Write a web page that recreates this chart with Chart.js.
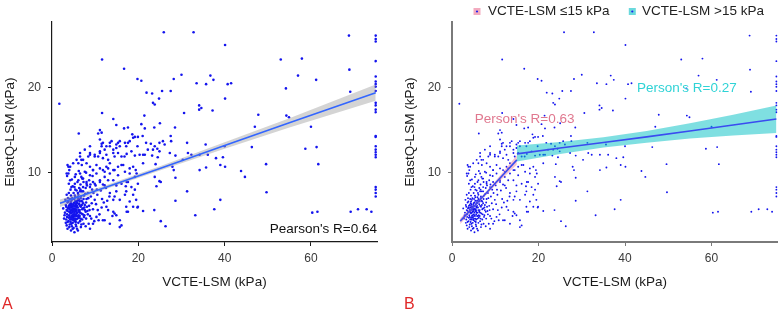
<!DOCTYPE html>
<html>
<head>
<meta charset="utf-8">
<script src="https://cdn.jsdelivr.net/npm/chart.js@4"></script>
<style>
body { margin: 0; background: #fff; }
#wrap { position: relative; width: 784px; height: 313px; }
canvas { position: absolute; top: 0; }
#panelA { left: 0; }
#panelB { left: 392px; }
</style>
</head>
<body>
<div id="wrap">
<canvas id="panelA" width="392" height="313"></canvas>
<canvas id="panelB" width="392" height="313"></canvas>
</div>
<script>
const xTicks = [0, 20, 40, 60];
const yTicks = [10, 20];

// [VCTE-LSM, ElastQ-LSM] pairs
const lowCluster = [
    [3.2,4.1],[3.5,4.8],[3.6,5.5],[3.8,4.3],[3.9,6.1],[4.0,5.0],[4.1,5.7],[4.2,4.5],[4.3,6.4],[4.4,5.2],
    [4.5,4.0],[4.5,5.9],[4.6,6.8],[4.7,4.7],[4.8,5.4],[4.9,6.2],[5.0,4.4],[5.0,5.1],[5.1,5.8],[5.2,6.5],
    [5.3,4.9],[5.4,7.1],[5.4,5.5],[5.5,4.2],[5.6,6.0],[5.7,5.3],[5.8,6.7],[5.9,4.6],[6.0,5.9],[6.1,7.4],
    [6.2,5.0],[6.3,6.3],[6.4,5.6],[6.5,4.3],[6.6,7.0],[6.7,6.0],[6.8,5.2],[7.0,6.6],[7.2,5.8],[7.4,7.3],
    [7.6,6.2],[7.8,5.4],[8.0,6.9],[8.3,7.6],[8.6,6.1],[9.0,7.2],[3.0,5.3],[3.3,6.0],[3.4,3.8],[3.7,7.0],
    [2.8,4.6],[4.0,3.6],[4.8,3.4],[5.6,3.7],[6.0,3.2],[5.2,3.0],[4.4,7.3],[5.0,7.6],[5.7,7.9],[6.3,8.2],
    [6.9,7.8],[4.2,6.9],[3.6,6.5],[3.1,6.8],[2.6,5.8],[2.9,5.0],[4.6,5.6],[4.9,4.8],[5.3,5.7],[5.5,6.3],
    [5.9,5.3],[4.3,5.5],[4.7,6.0],[5.1,6.9],[5.8,4.9],[6.2,6.8],[4.1,4.8],[3.8,5.9],[4.5,4.5],[5.4,4.6],
    [6.4,4.9],[7.0,4.5],[7.5,5.0],[8.2,5.5],[8.8,4.9],[9.5,5.7],[10.2,6.3],[11.0,5.1],[9.8,4.3],[8.5,4.0],
    [7.8,3.7],[6.8,3.9],[12.0,6.5],[10.5,7.4],[9.3,8.0],[8.1,8.5],[7.3,8.9],[6.6,8.6],[5.9,8.9],[5.2,8.3],
    [4.6,9.2],[3.9,8.7],[3.5,9.6],[4.0,10.3],[3.6,10.9],[5.5,9.8],[6.2,10.2],[7.0,9.3],[7.9,10.0],[8.6,9.1],
    [9.4,9.6],[10.1,8.5],[11.3,7.9],[12.5,8.2],[13.3,7.2],[13.0,5.6],[12.2,4.4],[11.5,5.9],[14.0,4.9],
    [4.4,6.1],[4.8,5.0],[5.2,5.3],[5.6,5.5],[4.9,5.7],[5.3,6.1],[4.6,4.9],[5.1,4.6],[4.2,5.3],[5.7,6.5]
];

// the dense core around 4-7 kPa
const coreCluster = [
    [3.3,4.5],[3.5,5.1],[3.7,5.8],[3.9,4.7],[4.1,6.2],[4.3,4.2],[4.4,6.6],[4.6,5.3],[4.7,7.0],[4.9,4.5],
    [5.0,6.4],[5.2,5.0],[5.3,7.3],[5.5,5.7],[5.6,4.5],[5.8,6.1],[5.9,7.1],[6.1,5.6],[6.2,4.7],[6.4,6.6],
    [6.5,5.3],[6.7,7.2],[6.9,6.2],[7.1,5.1],[7.3,6.9],[7.5,5.9],[7.7,7.5],[7.9,6.5],[8.1,6.0],[8.4,7.0],
    [3.4,5.6],[3.6,4.2],[3.8,6.6],[4.0,5.4],[4.2,5.9],[4.4,4.7],[4.5,6.3],[4.7,5.7],[4.8,4.1],[5.0,5.5],
    [5.1,6.1],[5.3,4.3],[5.4,6.7],[5.6,5.1],[5.7,5.9],[5.9,6.4],[6.0,4.9],[6.1,6.9],[6.3,5.4],[6.5,6.1],
    [6.6,4.6],[6.8,6.7],[7.0,5.7],[7.2,6.4],[7.4,4.8],[7.6,5.6],[7.9,4.6],[8.3,5.1],[8.7,5.6],[9.2,6.4],
    [3.2,6.2],[3.4,7.4],[3.9,7.6],[4.3,8.0],[4.8,8.4],[5.4,8.0],[6.0,7.6],[6.6,8.0],[7.2,7.8],[7.8,8.2],
    [4.1,3.9],[4.6,3.7],[5.0,3.5],[5.5,3.9],[6.1,4.1],[6.7,3.6],[7.3,4.0],[3.6,3.4],[4.4,3.2],[5.8,3.4],
    [9.9,6.8],[10.6,5.6],[9.6,7.6],[8.9,8.6],[10.4,8.0],[11.6,6.9],[12.8,6.7],[10.8,4.4],[11.8,8.6],[9.1,4.6]
];

const innerCloud = [
    [11.5,13.4],[12.6,13.1],[13.4,13.5],[14.9,13.3],[15.7,13.7],[16.9,13.5],[18.0,13.7],[14.2,12.7],[15.3,12.3],[16.1,11.9],
    [17.3,12.2],[18.4,12.5],[19.2,12.0],[12.6,12.1],[11.8,11.7],[11.1,12.3],[9.9,11.9],[8.8,12.1],[7.2,11.5],[8.0,11.1],
    [6.9,10.9],[6.1,11.1],[8.8,10.7],[9.5,10.3],[10.3,10.9],[11.1,10.5],[12.2,10.1],[13.0,10.5],[13.4,9.9],[14.5,10.3],
    [15.3,9.7],[16.1,10.9],[16.9,10.1],[18.0,10.5],[18.8,10.7],[19.6,9.9],[3.8,10.7],[3.4,9.9],[4.2,9.1],[5.3,9.5],
    [6.5,9.9],[7.2,9.3],[8.0,8.9],[8.8,8.3],[9.9,8.7],[11.1,8.9],[12.2,8.5],[13.0,9.1],[14.2,9.1],[14.9,8.5],
    [16.1,8.7],[17.3,8.9],[18.4,8.3],[19.2,8.0],[19.9,8.7],[13.4,7.6],[14.5,7.2],[15.7,6.8],[16.9,7.4],[18.0,6.6],
    [18.8,6.0],[17.3,5.4],[15.7,4.4],[16.1,3.8],[13.4,4.0],[11.8,4.4],[10.3,4.8],[9.5,4.0],[8.8,3.4],[14.2,5.4],
    [14.9,5.0],[12.6,6.0],[6.5,11.9],[6.8,11.5],[8.4,11.9],[8.8,12.3],[9.9,12.1],[10.7,11.9],[11.1,12.5],[11.5,13.1],
    [11.8,13.5],[12.2,12.7],[13.0,11.5],[13.4,13.1],[13.8,13.7],[14.2,12.3],[14.5,11.9],[14.9,12.9],[15.3,13.5],[15.7,13.1],
    [9.5,10.3],[10.3,9.9],[8.8,9.7],[7.6,10.1],[6.8,9.5],[6.1,9.1],[5.3,8.7],[4.5,8.3],[3.8,9.9],[4.2,10.7],
    [4.9,11.1],[5.7,11.5],[11.8,10.3],[12.6,10.7],[13.4,11.1],[14.2,10.3],[12.2,9.5],[11.1,9.1],[9.5,8.9],[8.0,8.7],
    [7.2,8.3],[6.5,7.8],[11.1,13.9],[10.7,14.6],[8.8,13.1],[7.6,12.7],[6.5,12.3]
];

const midCloud = [
    [19.8,13.1],[22.9,13.4],[23.8,13.1],[24.4,12.8],[24.9,13.5],[26.1,13.3],[27.6,13.7],[24.9,12.5],[23.4,12.7],[22.2,12.7],
    [21.1,12.1],[20.3,12.1],[21.5,12.1],[24.5,11.8],[27.3,12.3],[28.6,12.0],[24.0,11.0],[21.1,11.1],[19.4,10.3],[23.8,9.5],
    [24.9,9.0],[28.6,9.4],[27.9,10.7],[28.2,10.3],[23.7,5.6],[21.1,5.5],[19.8,5.9],[25.2,4.3],[26.3,3.7],[21.8,13.5],
    [25.7,13.7],[23.2,12.0],[18.8,14.1],[17.2,13.1],[17.6,13.5],[16.8,11.9],[16.5,10.9],[18.0,9.9],[19.2,9.5],[17.6,8.9],
    [17.1,8.4],[17.2,7.8],[18.8,7.4],[19.5,6.8],[19.9,6.0],[14.2,6.8],[14.5,5.2],[15.7,3.6],[17.2,6.0],[17.6,5.4],
    [14.9,7.8],[15.3,10.7],[24.2,8.4],[25.2,8.9]
];

const farScatter = [
    [25.9,26.5],[32.8,26.5],[68.8,26.1],[40.1,25.0],[11.6,23.3],[53.0,23.3],[57.9,23.4],[68.9,22.1],[16.7,22.2],[1.7,18.1],
    [30.0,21.5],[28.2,21.0],[19.8,21.0],[20.7,20.8],[36.7,21.4],[37.4,20.9],[57.0,21.4],[61.2,20.9],[33.5,20.5],[35.7,20.4],
    [40.7,20.4],[41.5,20.5],[21.9,19.4],[23.2,19.3],[25.5,19.6],[27.5,19.6],[54.2,19.9],[69.1,19.5],[24.8,18.7],[40.1,18.7],
    [23.4,18.2],[23.8,18.0],[34.1,17.9],[34.6,17.6],[34.1,17.4],[37.2,17.3],[30.6,17.0],[11.6,17.0],[47.8,16.8],[54.3,16.7],
    [54.9,16.5],[14.2,16.3],[21.4,16.7],[14.9,15.6],[16.7,15.2],[17.6,15.3],[20.7,15.7],[25.0,15.8],[21.5,15.2],[23.7,15.3],
    [28.5,15.3],[11.1,15.0],[11.5,14.7],[6.2,14.6],[47.0,15.4],[60.0,15.4],[18.6,14.5],[19.9,14.2],[19.2,14.2],[21.0,14.3],
    [27.5,14.3],[31.3,13.5],[35.6,13.3],[40.0,13.1],[46.3,13.0],[61.3,13.0],[58.7,12.8],[32.3,12.1],[34.2,12.1],[36.1,12.1],
    [31.5,12.3],[38.0,11.7],[39.6,11.8],[30.3,11.5],[40.1,10.7],[39.0,10.9],[49.6,11.0],[61.7,11.0],[35.7,10.6],[34.2,10.3],
    [43.8,10.2],[44.7,9.5],[31.3,7.8],[49.7,7.7],[28.6,6.7],[39.0,6.8],[37.6,5.7],[60.3,5.3],[61.5,5.4],[69.2,5.4],
    [70.9,5.7],[72.9,5.7],[74.0,5.4],[33.2,5.0]
];

// VCTE capped at 75 kPa: column of ElastQ values on the right edge
const cappedX = 75;
const cappedY = [26.1,25.7,25.4,23.1,21.3,20.7,20.4,20.1,19.6,18.2,17.9,17.4,17.1,14.3,14.2,13.1,12.7,12.4,12.1,11.8,8.3,8.0,7.6,7.2];

// fit for all patients (panel A)
const fitAllX = [1.85, 12, 25, 40, 55, 75];
const fitAllY = [6.4, 8.2, 10.5, 13.2, 15.85, 19.4];
const fitAllLow = [5.95, 7.98, 10.25, 12.82, 15.3, 18.45];
const fitAllHigh = [6.85, 8.42, 10.75, 13.58, 16.4, 20.35];

// fit for VCTE-LSM <=15 kPa (panel B)
const fitLowX = [1.9, 5, 10, 15];
const fitLowY = [4.3, 6.0, 8.75, 11.5];
const fitLowLow = [3.95, 5.82, 8.5, 10.95];
const fitLowHigh = [4.65, 6.18, 9.0, 12.05];

// fit for VCTE-LSM >15 kPa (panel B)
const fitHighX = [15, 25, 35, 45, 55, 65, 75];
const fitHighY = [12.2, 12.9, 13.55, 14.2, 14.9, 15.6, 16.3];
const fitHighLow = [11.3, 12.2, 12.95, 13.5, 14.0, 14.35, 14.65];
const fitHighHigh = [13.2, 13.6, 14.15, 14.9, 15.8, 16.8, 17.9];

Chart.defaults.font.family = '"Liberation Sans", Arial, sans-serif';
Chart.defaults.animation = false;

const allPoints = [].concat(lowCluster, coreCluster, innerCloud, midCloud, farScatter, cappedY.map(y => [cappedX, y]))
    .map(p => ({x: p[0], y: p[1]}));

function toXY(xs, ys) {
    return xs.map((x, i) => ({x: x, y: ys[i]}));
}

function lineSet(xs, ys, color) {
    return {type: 'line', data: toXY(xs, ys), borderColor: color, borderWidth: 1.6, pointRadius: 0, fill: false, tension: 0};
}
function bandSet(xs, ys, fillColor) {
    return {type: 'line', data: toXY(xs, ys), borderWidth: 0, pointRadius: 0, tension: 0,
        fill: fillColor ? '+1' : false, backgroundColor: fillColor || 'transparent'};
}
function pointSet(r) {
    return {type: 'scatter', data: allPoints, pointRadius: r, pointBorderWidth: 0, backgroundColor: '#1414ee', pointHoverRadius: r};
}

const notesPlugin = {
    id: 'notes',
    afterDraw(chart, args, opts) {
        const ctx = chart.ctx;
        (opts.items || []).forEach(n => {
            ctx.save();
            if (n.key) {
                ctx.fillStyle = n.key;
                ctx.fillRect(n.x - 3.5, n.y - 3.5, 7, 7);
                ctx.fillStyle = '#2020ee';
                ctx.beginPath();
                ctx.arc(n.x, n.y, 1.1, 0, Math.PI * 2);
                ctx.fill();
            } else {
                ctx.font = n.font;
                ctx.fillStyle = n.color;
                ctx.textAlign = n.align || 'left';
                ctx.textBaseline = 'middle';
                ctx.fillText(n.text, n.x, n.y);
            }
            ctx.restore();
        });
    }
};

function makeScales(yWidth, yTitlePad, axisColor, axisWidth) {
    return {
        x: {
            type: 'linear', position: 'bottom', min: 0, max: 75.3,
            afterBuildTicks: s => { s.ticks = xTicks.map(v => ({value: v})); },
            afterFit: s => { s.height = 71; },
            ticks: {color: '#3a3a3a', font: {size: 12}, padding: 5},
            grid: {drawOnChartArea: false, drawTicks: true, tickLength: 4, color: axisColor},
            border: {display: true, color: axisColor, width: axisWidth},
            title: {display: true, text: 'VCTE-LSM (kPa)', color: '#1a1a1a', font: {size: 13.5}, padding: {top: 4, bottom: 23}}
        },
        y: {
            type: 'linear', position: 'left', min: 1.85, max: 27.7,
            afterBuildTicks: s => { s.ticks = yTicks.map(v => ({value: v})); },
            afterFit: s => { s.width = yWidth; },
            ticks: {color: '#3a3a3a', font: {size: 12}, padding: 7},
            grid: {drawOnChartArea: false, drawTicks: true, tickLength: 4, color: axisColor},
            border: {display: true, color: axisColor, width: axisWidth},
            title: {display: true, text: 'ElastQ-LSM (kPa)', color: '#1a1a1a', font: {size: 13.5}, padding: {top: yTitlePad, bottom: 0}}
        }
    };
}

new Chart(document.getElementById('panelA'), {
    type: 'scatter',
    data: {
        datasets: [
            lineSet(fitAllX, fitAllY, '#3366ff'),
            bandSet(fitAllX, fitAllHigh, 'rgba(160,160,160,0.45)'),
            bandSet(fitAllX, fitAllLow),
            pointSet(1.3)
        ]
    },
    options: {
        responsive: false,
        layout: {padding: {left: 0, right: 15, top: 22, bottom: 0}},
        scales: makeScales(52, 1.9, '#1a1a1a', 1.2),
        plugins: {
            legend: {display: false},
            tooltip: {enabled: false},
            notes: {items: [
                {text: "Pearson's R=0.64", x: 377, y: 229, align: 'right', color: '#111', font: '13.5px "Liberation Sans", Arial'},
                {text: 'A', x: 2, y: 305, color: '#e02828', font: '16px "Liberation Sans Narrow", "Liberation Sans", Arial'}
            ]}
        }
    },
    plugins: [notesPlugin]
});

new Chart(document.getElementById('panelB'), {
    type: 'scatter',
    data: {
        datasets: [
            lineSet(fitLowX, fitLowY, '#3a4cf0'),
            lineSet(fitHighX, fitHighY, '#3a4cf0'),
            bandSet(fitLowX, fitLowHigh, 'rgba(236,120,150,0.45)'),
            bandSet(fitLowX, fitLowLow),
            bandSet(fitHighX, fitHighHigh, 'rgba(0,191,196,0.5)'),
            bandSet(fitHighX, fitHighLow),
            pointSet(0.95)
        ]
    },
    options: {
        responsive: false,
        layout: {padding: {left: 0, right: 6.3, top: 22, bottom: 0}},
        scales: makeScales(60, 10.2, '#7a7a7a', 2),
        plugins: {
            legend: {display: false},
            tooltip: {enabled: false},
            notes: {items: [
                {key: 'rgba(240,150,175,0.8)', x: 85, y: 11.5},
                {text: 'VCTE-LSM \u226415 kPa', x: 96, y: 11, color: '#222', font: '13.5px "Liberation Sans", Arial'},
                {key: 'rgba(80,210,215,0.85)', x: 240.3, y: 11.5},
                {text: 'VCTE-LSM >15 kPa', x: 250, y: 11, color: '#222', font: '13.5px "Liberation Sans", Arial'},
                {text: "Person's R=0.63", x: 82.7, y: 119.5, color: '#e0788f', font: '13.5px "Liberation Sans", Arial'},
                {text: "Person's R=0.27", x: 245, y: 88, color: '#2fd3d6', font: '13.5px "Liberation Sans", Arial'},
                {text: 'B', x: 12, y: 305, color: '#e02828', font: '16px "Liberation Sans Narrow", "Liberation Sans", Arial'}
            ]}
        }
    },
    plugins: [notesPlugin]
});
</script>
</body>
</html>
